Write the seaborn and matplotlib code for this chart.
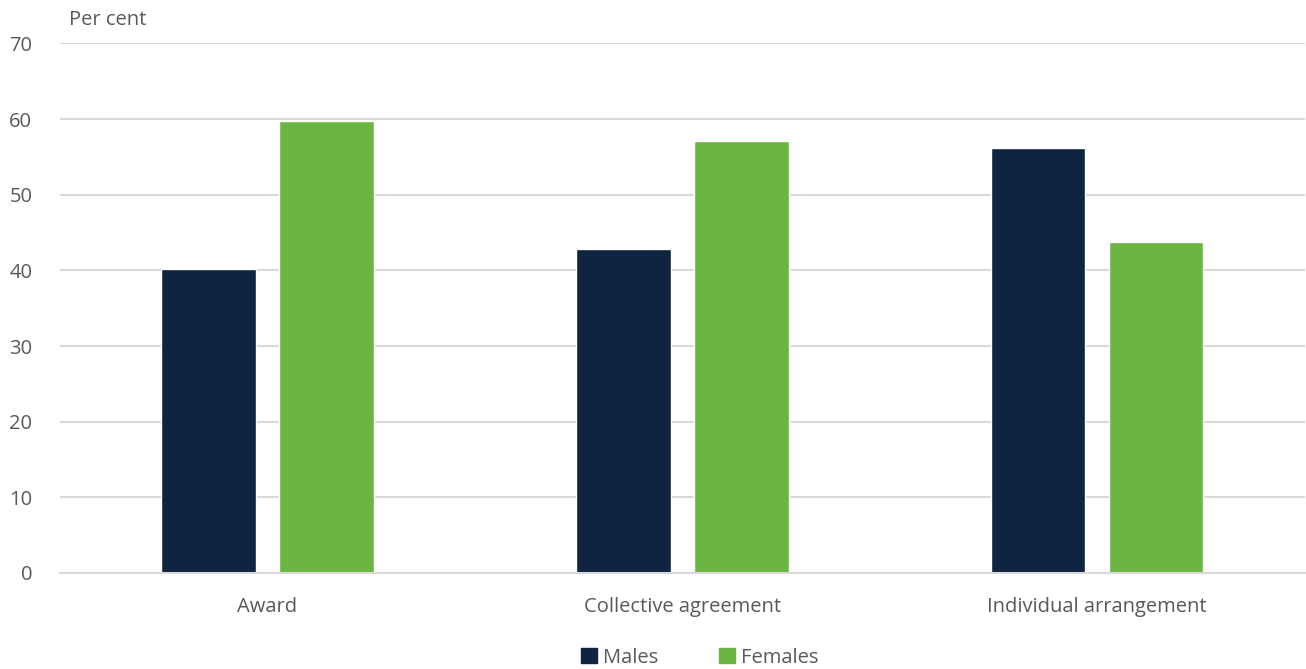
import pandas as pd
import matplotlib.pyplot as plt
import seaborn as sns
from matplotlib.patches import Patch

categories = ['Award', 'Collective agreement', 'Individual arrangement']
males = [40.2, 42.8, 56.2]
females = [59.7, 57.1, 43.8]

df = pd.DataFrame({
    'category': categories * 2,
    'sex': ['Males'] * 3 + ['Females'] * 3,
    'value': males + females,
})

sns.set_style('white')
plt.rcParams['font.family'] = ['Open Sans', 'DejaVu Sans']
text_col = '#595959'
palette = {'Males': '#0E2441', 'Females': '#6DB543'}

fig = plt.figure(figsize=(13.06, 6.69), dpi=100)
ax = fig.add_axes([0.046, 0.1435, 0.953, 0.7915])

sns.barplot(data=df, x='category', y='value', hue='sex', palette=palette,
            width=0.569, gap=0.2, ax=ax, legend=False, saturation=1)

ax.set_ylim(0, 70)
ax.set_xlim(-0.5, 2.5)
ax.set_yticks(range(0, 71, 10))
ax.yaxis.grid(True, color='#D9D9D9', linewidth=1.5)
ax.set_axisbelow(True)
for s in ['top', 'right', 'left']:
    ax.spines[s].set_visible(False)
ax.spines['bottom'].set_color('#D9D9D9')
ax.spines['bottom'].set_linewidth(1.5)
ax.tick_params(axis='both', length=0, labelsize=14.5, labelcolor=text_col)
ax.tick_params(axis='y', pad=20)
ax.tick_params(axis='x', pad=17)
ax.set_xlabel('')
ax.set_ylabel('')

fig.text(0.053, 0.97, 'Per cent', fontsize=14.5, color=text_col, va='center', ha='left')

handles = [Patch(color=palette['Males'], label='Males'),
           Patch(color=palette['Females'], label='Females')]
fig.legend(handles=handles, loc='center', bbox_to_anchor=(0.536, 0.017), ncol=2,
           frameon=False, fontsize=14.5, labelcolor=text_col,
           handlelength=0.8, handleheight=0.8, handletextpad=0.3, columnspacing=3.0)

fig.savefig('out.png', dpi=100)
